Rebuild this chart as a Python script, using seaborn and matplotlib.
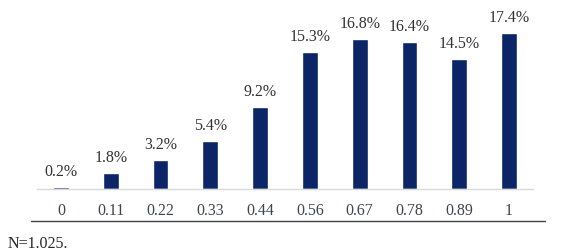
import matplotlib
matplotlib.use("Agg")
import matplotlib.pyplot as plt
import seaborn as sns
import pandas as pd

categories = ["0", "0.11", "0.22", "0.33", "0.44", "0.56", "0.67", "0.78", "0.89", "1"]
shares = [0.2, 1.8, 3.2, 5.4, 9.2, 15.3, 16.8, 16.4, 14.5, 17.4]
note = "N=1.025."

sns.set_theme(style="white")
plt.rcParams['font.family'] = ['Liberation Serif', 'DejaVu Serif']

df = pd.DataFrame({"cat": categories, "share": shares})

fig = plt.figure(figsize=(5.61, 2.52), dpi=100)
ax = fig.add_axes([0.066, 0.25, 0.884, 0.71])

sns.barplot(data=df, x="cat", y="share", color="#0b2566", saturation=1,
            width=0.32, ax=ax)

for i, v in enumerate(shares):
    ax.text(i, v + 0.8, f"{v:.1f}%", ha="center", va="bottom",
            fontsize=11.5, color="#333333")

ax.set_xlim(-0.48, 9.48)
ax.set_ylim(0, 20)
ax.set_xlabel("")
ax.set_ylabel("")
ax.set_yticks([])
for s in ["top", "right", "left"]:
    ax.spines[s].set_visible(False)
ax.spines["bottom"].set_color("#d9d9d9")
ax.spines["bottom"].set_linewidth(1)
ax.tick_params(axis="x", length=0, pad=10, labelsize=11.5, labelcolor="#3c4450")

# dark rule under the tick labels
fig.add_artist(plt.Line2D([31 / 561, 545 / 561], [1 - 221 / 252, 1 - 221 / 252],
                          color="#404040", linewidth=1))
fig.text(8 / 561, 1 - 244 / 252, note, fontsize=11.5, color="#262626",
         va="center", ha="left")

fig.savefig("out.png", dpi=100)
